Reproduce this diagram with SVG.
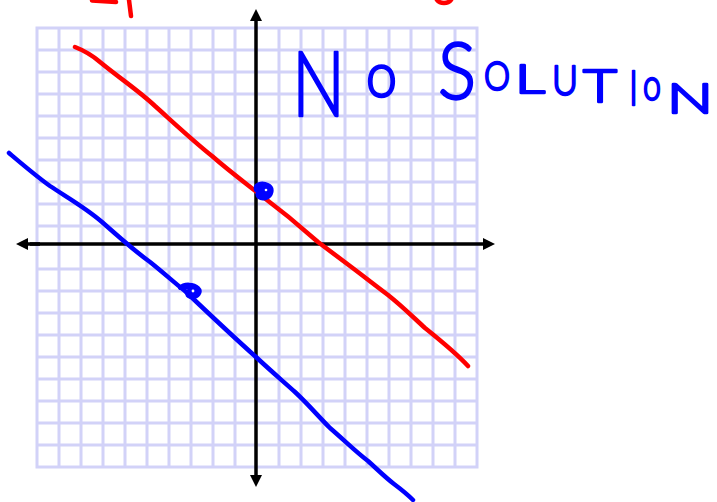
<svg xmlns="http://www.w3.org/2000/svg" width="717" height="502" viewBox="0 0 717 502">
<defs>
<style>
.grid{stroke:#d2d2f8;stroke-width:3;fill:none}
.axis{stroke:#000;stroke-width:3.5;fill:none}
.red{stroke:#ff0000;stroke-width:4.5;fill:none;stroke-linecap:round;stroke-linejoin:round}
.blue{stroke:#0000ff;stroke-width:4.5;fill:none;stroke-linecap:round;stroke-linejoin:round}
.hand{font-family:Lato,"Liberation Sans",Arial,sans-serif;font-weight:300;fill:#0000ff;stroke:#0000ff;stroke-width:2.4;stroke-linejoin:round}
</style>
<marker id="arr" viewBox="0 0 12 12" refX="2" refY="6" markerWidth="12" markerHeight="12" markerUnits="userSpaceOnUse" orient="auto">
<path d="M0,0 L12,6 L0,12 Z" fill="#000"/>
</marker>
</defs>
<rect width="717" height="502" fill="#fff"/>
<g id="grid">
<rect x="37" y="28" width="440" height="439" fill="#fff" class="grid"/>
<path class="grid" d="M59,28V467M81,28V467M103,28V467M125,28V467M147,28V467M169,28V467M191,28V467M213,28V467M235,28V467M279,28V467M301,28V467M323,28V467M345,28V467M367,28V467M389,28V467M411,28V467M433,28V467M455,28V467M37,50H477M37,72H477M37,94H477M37,116H477M37,138H477M37,160H477M37,182H477M37,204H477M37,226H477M37,269H477M37,291H477M37,313H477M37,335H477M37,357H477M37,379H477M37,401H477M37,423H477M37,445H477"/>
</g>
<g id="connectors">
<line class="axis" x1="256" y1="476" x2="256" y2="19" marker-end="url(#arr)"/>
<line class="axis" x1="256" y1="476" x2="256" y2="477" marker-end="url(#arr)"/>
<line class="axis" x1="30" y1="244" x2="485" y2="244" marker-end="url(#arr)"/>
<line class="axis" x1="40" y1="244" x2="26" y2="244" marker-end="url(#arr)"/>
</g>
<g id="red-line">
<path class="red" d="M75,47 C85,51 92,55 100,62 C118,77 138,90 155,106 C175,124 192,140 212,156 C228,170 244,182 258,193 C278,208 300,226 318,242 C334,254 342,260 350,266 C362,275 376,286 388,295 C402,306 414,318 425,328 C440,340 456,353 468,366"/>
</g>
<g id="blue-line">
<path class="blue" d="M9,153 C22,164 36,176 50,186 C68,198 86,208 102,222 C120,238 136,252 150,262 C165,274 176,284 185,291 C205,310 228,332 256,357 C272,372 284,382 295,392 C308,404 318,416 330,428 C344,440 356,452 368,461 C378,470 386,478 394,484 C402,490 408,495 413,500"/>
</g>
<g id="point-a">
<path d="M256,190 C254,184 262,182 268,185 C274,188 272,196 266,198 C260,200 256,196 258,192" fill="#0000ff" stroke="#0000ff" stroke-width="4" stroke-linecap="round"/>
<circle cx="266" cy="190" r="1.3" fill="#fff"/>
</g>
<g id="point-b">
<path d="M180,288 C184,283 194,284 198,288 C202,292 198,297 192,297 C186,297 186,292 190,290" fill="#0000ff" stroke="#0000ff" stroke-width="4" stroke-linecap="round"/>
<circle cx="193" cy="291" r="1.4" fill="#fff"/>
</g>
<g id="label">
<text class="hand" x="292" y="116" font-size="90" textLength="53" lengthAdjust="spacingAndGlyphs">N</text>
<text class="hand" x="366" y="97" font-size="64" textLength="31" lengthAdjust="spacingAndGlyphs">o</text>
<text class="hand" x="438" y="99" font-size="78" textLength="38" lengthAdjust="spacingAndGlyphs">S</text>
<text class="hand" x="484" y="90" font-size="40" textLength="26" lengthAdjust="spacingAndGlyphs">O</text>
<text class="hand" x="515" y="93" font-size="40" textLength="30" lengthAdjust="spacingAndGlyphs">L</text>
<text class="hand" x="552" y="95" font-size="42" textLength="26" lengthAdjust="spacingAndGlyphs">U</text>
<text class="hand" x="583" y="102" font-size="46" textLength="34" lengthAdjust="spacingAndGlyphs">T</text>
<text class="hand" x="629" y="105" font-size="48" textLength="9" lengthAdjust="spacingAndGlyphs">I</text>
<text class="hand" x="643" y="100" font-size="44" textLength="18" lengthAdjust="spacingAndGlyphs">o</text>
<text class="hand" x="667" y="113" font-size="42" textLength="46" lengthAdjust="spacingAndGlyphs">N</text>
</g>
<g id="red-marks">
<path class="red" d="M92,0.5 L116,2 M129,0 L131,16 M437,0 C440,4 448,4 451,0"/>
</g>
</svg>
